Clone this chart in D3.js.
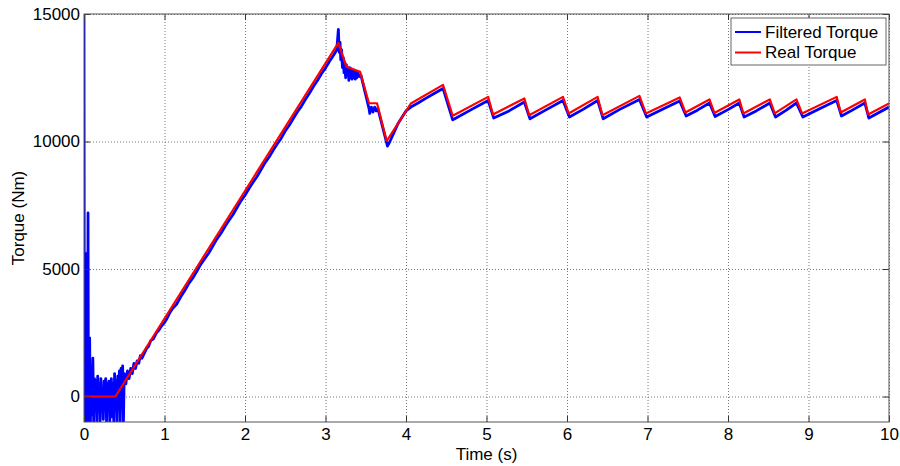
<!DOCTYPE html>
<html>
<head>
<meta charset="utf-8">
<script src="https://cdn.jsdelivr.net/npm/d3@7"></script>
<style>
  body { margin: 0; background: #fff; }
  svg { display: block; font-family: "Liberation Sans", Arial, sans-serif; }
</style>
</head>
<body>
<script>
// real (reference) torque
const realTime = [0, 0.39, 3.16, 3.26, 3.43, 3.54, 3.64, 3.76, 4.06, 4.46, 4.58, 5.02, 5.08, 5.47, 5.53,
  5.95, 6.02, 6.38, 6.44, 6.90, 6.98, 7.40, 7.47, 7.77, 7.83, 8.14, 8.19, 8.52, 8.58, 8.85, 8.92,
  9.35, 9.40, 9.70, 9.74, 10];
const realTorque = [0, 0, 13870, 12930, 12730, 11500, 11500, 10020, 11490, 12220, 11010, 11750, 11060, 11690, 11030,
  11750, 11100, 11750, 11030, 11790, 11100, 11730, 11140, 11650, 11120, 11650, 11100, 11650, 11100, 11650, 11100,
  11750, 11140, 11650, 11060, 11490];

// filtered torque (noisy)
const filteredTime = [0, 0.005, 0.01, 0.015, 0.02, 0.025, 0.03, 0.035, 0.04, 0.045, 0.05, 0.055, 0.06, 0.065, 0.07,
  0.08, 0.09, 0.10, 0.11, 0.12, 0.13, 0.14, 0.15, 0.16, 0.17, 0.18, 0.19, 0.20, 0.21, 0.22, 0.23, 0.24,
  0.25, 0.26, 0.27, 0.28, 0.29, 0.30, 0.31, 0.32, 0.33, 0.34, 0.35, 0.36, 0.37, 0.38, 0.39, 0.40, 0.41,
  0.42, 0.43, 0.44, 0.45, 0.46, 0.47, 0.48, 0.49, 0.50, 0.52, 0.54, 0.56, 0.58, 0.60, 0.62, 0.64, 0.66,
  0.68, 0.70, 0.72, 0.75, 0.78, 0.80, 0.83, 0.86, 0.90, 0.93, 0.96, 1.00, 1.03, 1.06, 1.10, 1.15, 1.20,
  1.25, 1.30, 1.35, 1.40, 1.45, 1.50, 1.55, 1.60, 1.65, 1.70, 1.75, 1.80, 1.85, 1.90, 1.95, 2.00, 2.05,
  2.10, 2.15, 2.20, 2.25, 2.30, 2.35, 2.40, 2.45, 2.50, 2.55, 2.60, 2.65, 2.70, 2.75, 2.80, 2.85, 2.90,
  2.95, 3.00, 3.05, 3.10, 3.14, 3.16, 3.17, 3.18, 3.19, 3.20, 3.21, 3.22, 3.23, 3.24, 3.25, 3.26, 3.27,
  3.28, 3.29, 3.30, 3.31, 3.32, 3.33, 3.34, 3.35, 3.36, 3.37, 3.38, 3.39, 3.40, 3.42, 3.44, 3.54, 3.55,
  3.57, 3.59, 3.61, 3.63, 3.65, 3.77, 3.80, 3.85, 3.90, 3.95, 4.00, 4.06, 4.15, 4.25, 4.35, 4.46, 4.58,
  4.60, 4.80, 5.02, 5.09, 5.28, 5.47, 5.54, 5.75, 5.95, 6.03, 6.20, 6.38, 6.45, 6.65, 6.90, 6.99, 7.20,
  7.40, 7.48, 7.62, 7.77, 7.84, 8.00, 8.14, 8.20, 8.35, 8.52, 8.59, 8.72, 8.85, 8.93, 9.15, 9.35, 9.41,
  9.55, 9.70, 9.75, 10];
const filteredTorque = [15000, -1000, 3400, -1000, 1500, -800, 5600, -1000, 2200, -600, 7200, -1000, 1200, -900, 2300,
  -1000, 1000, -700, 1500, -1000, 700, -500, 600, -1000, 800, -300, 500, -1000, 700, -200, 300, -900,
  600, -400, 700, -1000, 500, -300, 600, -1000, 200, 700, -800, 500, -1000, 900, -300, 600, -1000,
  800, 200, 1000, -1000, 1100, 400, 1200, -1000, 900, 500, 1000, 700, 1100, 900, 1300, 1100, 1400,
  1300, 1600, 1500, 1700, 1900, 1950, 2200, 2250, 2500, 2600, 2750, 2900, 3050, 3250, 3450, 3620, 3900,
  4150, 4420, 4640, 4900, 5180, 5400, 5630, 5900, 6170, 6390, 6660, 6900, 7130, 7400, 7670, 7890, 8160,
  8400, 8630, 8900, 9170, 9390, 9660, 9900, 10130, 10410, 10640, 10900, 11160, 11380, 11650, 11890, 12160, 12390,
  12660, 12880, 13150, 13380, 13600, 14400, 13500, 13900, 13200, 13600, 12900, 13300, 12700, 13100, 12500, 13000, 12600,
  12900, 12400, 12900, 12500, 12850, 12450, 12800, 12500, 12800, 12450, 12750, 12500, 12700, 12550, 12600, 11300, 11100,
  11350, 11150, 11350, 11200, 11300, 9820, 10000, 10350, 10700, 10950, 11200, 11350, 11510, 11700, 11880, 12080, 10850,
  10880, 11230, 11610, 10920, 11200, 11550, 10890, 11260, 11610, 10960, 11260, 11610, 10890, 11250, 11650, 10960, 11280,
  11590, 11000, 11230, 11510, 10980, 11250, 11510, 10960, 11200, 11510, 10960, 11220, 11510, 10960, 11300, 11610, 11000,
  11240, 11510, 10920, 11350];

const xTicks = [0, 1, 2, 3, 4, 5, 6, 7, 8, 9, 10];
const yTicks = [0, 5000, 10000, 15000];
const seriesNames = ["Filtered Torque", "Real Torque"];
const seriesColors = ["#0000ff", "#ff0000"];

const width = 900, height = 466;
const margin = {top: 14, right: 11, bottom: 44, left: 84};
const innerW = width - margin.left - margin.right;
const innerH = height - margin.top - margin.bottom;
const fontSize = "17px";

const x = d3.scaleLinear().domain([0, 10]).range([margin.left, width - margin.right]);
const y = d3.scaleLinear().domain([-1000, 15000]).range([height - margin.bottom, margin.top]);

const svg = d3.select("body").append("svg")
    .attr("width", width)
    .attr("height", height);

svg.append("defs").append("clipPath").attr("id", "plot")
  .append("rect")
    .attr("x", margin.left).attr("y", margin.top)
    .attr("width", innerW).attr("height", innerH);

// grid
svg.append("g")
    .attr("transform", `translate(0,${height - margin.bottom})`)
    .call(d3.axisBottom(x).tickValues(xTicks).tickSize(-innerH).tickFormat(""))
    .call(g => g.select(".domain").remove())
    .call(g => g.selectAll("line").attr("stroke", "#777").attr("stroke-dasharray", "1,2"));

svg.append("g")
    .attr("transform", `translate(${margin.left},0)`)
    .call(d3.axisLeft(y).tickValues(yTicks).tickSize(-innerW).tickFormat(""))
    .call(g => g.select(".domain").remove())
    .call(g => g.selectAll("line").attr("stroke", "#777").attr("stroke-dasharray", "1,2"));

// data
const filtered = filteredTime.map((t, i) => [t, filteredTorque[i]]);
const real = realTime.map((t, i) => [t, realTorque[i]]);

const line = d3.line().x(d => x(d[0])).y(d => y(d[1]));

const plot = svg.append("g").attr("clip-path", "url(#plot)");

plot.append("path")
    .datum(filtered)
    .attr("fill", "none")
    .attr("stroke", seriesColors[0])
    .attr("stroke-width", 2.8)
    .attr("stroke-linejoin", "round")
    .attr("d", line);

plot.append("path")
    .datum(real)
    .attr("fill", "none")
    .attr("stroke", seriesColors[1])
    .attr("stroke-width", 2.2)
    .attr("stroke-linejoin", "round")
    .attr("d", line);

// axes (ticks pointing inward, box on)
const tickStyle = g => {
  g.select(".domain").remove();
  g.selectAll(".tick line").attr("stroke", "#333");
  g.selectAll("text").attr("fill", "#000").style("font-size", fontSize);
};

svg.append("g")
    .attr("transform", `translate(0,${height - margin.bottom})`)
    .call(d3.axisBottom(x).tickValues(xTicks).tickSizeInner(-6).tickSizeOuter(0).tickPadding(6).tickFormat(d3.format("d")))
    .call(tickStyle);

svg.append("g")
    .attr("transform", `translate(${margin.left},0)`)
    .call(d3.axisLeft(y).tickValues(yTicks).tickSizeInner(-6).tickSizeOuter(0).tickPadding(4).tickFormat(d3.format("d")))
    .call(tickStyle);

svg.append("g")
    .attr("transform", `translate(0,${margin.top})`)
    .call(d3.axisTop(x).tickValues(xTicks).tickSizeInner(-6).tickSizeOuter(0).tickFormat(""))
    .call(tickStyle);

svg.append("g")
    .attr("transform", `translate(${width - margin.right},0)`)
    .call(d3.axisRight(y).tickValues(yTicks).tickSizeInner(-6).tickSizeOuter(0).tickFormat(""))
    .call(tickStyle);

svg.append("rect")
    .attr("x", margin.left).attr("y", margin.top)
    .attr("width", innerW).attr("height", innerH)
    .attr("fill", "none")
    .attr("stroke", "#555");

// axis labels
svg.append("text")
    .attr("x", margin.left + innerW / 2)
    .attr("y", 460)
    .attr("text-anchor", "middle")
    .style("font-size", fontSize)
    .text("Time (s)");

svg.append("text")
    .attr("transform", `translate(24,${margin.top + innerH / 2}) rotate(-90)`)
    .attr("text-anchor", "middle")
    .style("font-size", fontSize)
    .text("Torque (Nm)");

// legend
const legend = svg.append("g").attr("transform", "translate(731,18)");
legend.append("rect")
    .attr("width", 155).attr("height", 47)
    .attr("fill", "#fff")
    .attr("stroke", "#666");

seriesNames.forEach((name, i) => {
  const ly = 14 + i * 20.5;
  legend.append("line")
      .attr("x1", 4).attr("x2", 30)
      .attr("y1", ly).attr("y2", ly)
      .attr("stroke", seriesColors[i])
      .attr("stroke-width", 2);
  legend.append("text")
      .attr("x", 34).attr("y", ly)
      .attr("dy", "0.35em")
      .style("font-size", fontSize)
      .text(name);
});
</script>
</body>
</html>
